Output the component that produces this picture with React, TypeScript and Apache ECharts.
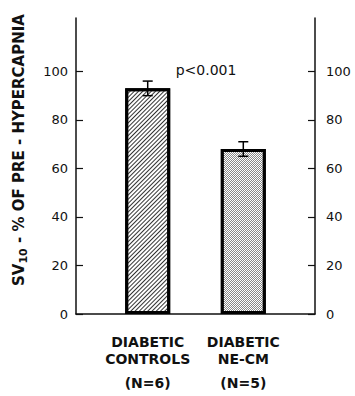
import React, { useEffect, useRef } from "react";
import * as echarts from "echarts";

const groupNames = ["DIABETIC\nCONTROLS", "DIABETIC\nNE-CM"];
const groupSizes = ["(N=6)", "(N=5)"];
const means = [93, 68];
const errors = [3, 3];
const tickValues = [0, 20, 40, 60, 80, 100];
const pValueText = "p<0.001";
const yTitleMain = "SV";
const yTitleSub = "10";
const yTitleRest = " - % OF PRE - HYPERCAPNIA";

const FONT = "DejaVu Sans";

export default function App() {
  const ref = useRef<HTMLDivElement>(null);
  useEffect(() => {
    if (!ref.current) return;
    const chart = echarts.init(ref.current, null, { renderer: "svg" });
    // 5 slots: spacer, group 1, spacer, group 2, spacer
    const slots: string[] = [];
    const barData: any[] = [];
    const errData: any[] = [];
    groupNames.forEach((g, i) => {
      slots.push("gap" + i);
      barData.push("-");
      slots.push(g + "\n" + groupSizes[i]);
      barData.push(means[i]);
      errData.push([slots.length - 1, means[i], errors[i]]);
    });
    slots.push("gapEnd");
    barData.push("-");

    const hatch = {
      symbol: "rect",
      symbolSize: 1,
      dashArrayX: [1, 0],
      dashArrayY: [1, 2],
      rotation: -Math.PI / 4,
      color: "#333",
    };
    const stipple = {
      symbol: "rect",
      symbolSize: 1,
      dashArrayX: [
        [1, 1],
        [0, 1, 1, 0],
      ],
      dashArrayY: [1, 0],
      rotation: 0,
      color: "#888",
    };

    const yAxisCommon = (position: "left" | "right", margin: number) => ({
      type: "value",
      position,
      min: 0,
      max: 122,
      splitLine: { show: false },
      axisLine: { show: true, lineStyle: { color: "#111", width: 1.5 } },
      axisTick: {
        show: true,
        inside: true,
        length: 7,
        customValues: tickValues,
        lineStyle: { color: "#111", width: 1.2 },
      },
      axisLabel: {
        show: true,
        customValues: tickValues,
        margin,
        color: "#111",
        fontFamily: FONT,
        fontSize: 13,
      },
    });

    chart.setOption({
      animation: false,
      grid: { left: 76, right: 40, top: 18, bottom: 82, containLabel: false },
      xAxis: {
        type: "category",
        data: slots,
        boundaryGap: true,
        axisLine: { show: true, lineStyle: { color: "#111", width: 1.5 } },
        axisTick: { show: false },
        axisLabel: {
          interval: 0,
          margin: 19,
          formatter: (v: string) => {
            if (v.startsWith("gap")) return "";
            const lines = v.split("\n");
            return (
              "{a|" + lines[0] + "}\n{a|" + lines[1] + "}\n{b|" + lines[2] + "}"
            );
          },
          rich: {
            a: {
              fontFamily: FONT,
              fontWeight: "bold",
              fontSize: 14,
              lineHeight: 17,
              color: "#111",
            },
            b: {
              fontFamily: FONT,
              fontWeight: "bold",
              fontSize: 14,
              lineHeight: 31,
              color: "#111",
            },
          },
        },
      },
      yAxis: [yAxisCommon("left", 8), yAxisCommon("right", 11)],
      series: [
        {
          type: "bar",
          data: barData.map((v, i) =>
            v === "-"
              ? v
              : {
                  value: v,
                  itemStyle: {
                    color: "#fff",
                    borderColor: "#000",
                    borderWidth: 3,
                    decal: i === 1 ? hatch : stipple,
                  },
                }
          ),
          barWidth: 45,
          z: 2,
        },
        {
          type: "custom",
          data: errData,
          z: 5,
          renderItem: (params: any, api: any) => {
            const x = api.value(0);
            const m = api.value(1);
            const e = api.value(2);
            const top = api.coord([x, m + e]);
            const bot = api.coord([x, m - e]);
            const hw = 5;
            const st = { stroke: "#000", lineWidth: 1.5 };
            return {
              type: "group",
              children: [
                { type: "line", shape: { x1: top[0], y1: top[1], x2: bot[0], y2: bot[1] }, style: st },
                { type: "line", shape: { x1: top[0] - hw, y1: top[1], x2: top[0] + hw, y2: top[1] }, style: st },
                { type: "line", shape: { x1: bot[0] - hw, y1: bot[1], x2: bot[0] + hw, y2: bot[1] }, style: st },
              ],
            };
          },
        },
      ],
      graphic: [
        {
          type: "text",
          x: 19,
          y: 150,
          rotation: Math.PI / 2,
          style: {
            text:
              "{m|" + yTitleMain + "}{s|" + yTitleSub + "}{m|" + yTitleRest + "}",
            align: "center",
            verticalAlign: "middle",
            rich: {
              m: { fontFamily: FONT, fontWeight: "bold", fontSize: 15, fill: "#111", lineHeight: 20 },
              s: { fontFamily: FONT, fontWeight: "bold", fontSize: 11, fill: "#111", lineHeight: 20, verticalAlign: "bottom", padding: [8, 0, 0, 0] },
            },
          },
        },
        {
          type: "text",
          x: 206,
          y: 70,
          style: {
            text: pValueText,
            align: "center",
            verticalAlign: "middle",
            fontFamily: FONT,
            fontSize: 14,
            fill: "#111",
          },
        },
      ],
    });
    return () => chart.dispose();
  }, []);
  return (
    <div
      ref={ref}
      style={{ position: "fixed", left: 0, top: 0, width: 355, height: 396, background: "#fff" }}
    />
  );
}
